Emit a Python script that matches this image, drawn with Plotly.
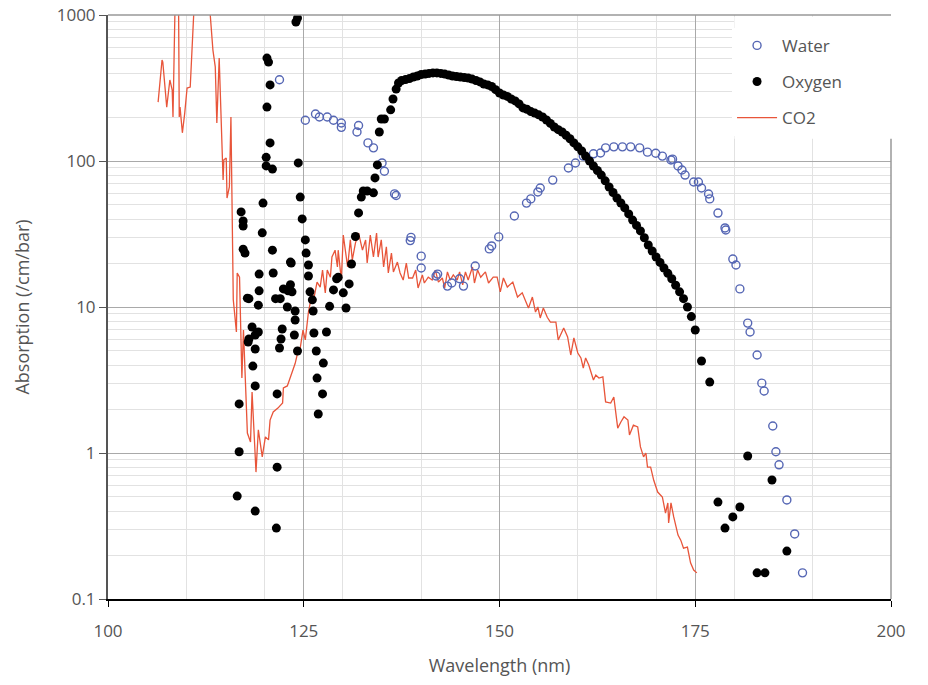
import plotly.graph_objects as go

# ---- data -------------------------------------------------------------
water_nm = [121.9, 125.2, 126.5, 127.0, 128.0, 128.8, 129.8, 129.8, 132.0, 131.8,
            133.2, 133.9, 135.0, 135.3, 136.6, 136.8, 138.6, 138.7, 140.0, 140.0,
            141.9, 142.1, 143.35, 143.9, 144.9, 145.4, 146.9, 148.7, 149.0, 149.9,
            151.9, 153.45, 154.0, 154.9, 155.2, 156.8, 158.8, 159.7, 160.7, 162.0,
            162.9, 163.55, 164.6, 165.7, 166.75, 167.9, 168.9, 169.95, 170.8, 171.9,
            172.1, 172.8, 173.3, 173.7, 174.8, 175.4, 175.8, 176.7, 176.85, 177.9,
            178.8, 178.9, 179.8, 180.2, 180.7, 181.7, 182.0, 182.9, 183.5, 183.8,
            184.9, 185.3, 185.7, 186.7, 187.7, 188.7]
water_abs = [360, 190, 210, 200, 200, 190, 182, 170, 175, 158,
             133, 123, 97, 85, 59.5, 58, 28.5, 30, 22.3, 18.5,
             16.3, 16.8, 13.9, 14.6, 15.6, 13.9, 19.1, 25.0, 26.2, 30.2,
             42, 51.5, 55, 61.4, 65.3, 74, 89.6, 96.9, 108, 112,
             113.5, 123, 125, 125, 125, 123, 115, 113, 108, 101.6,
             103, 92.5, 86.8, 80.1, 71.8, 71.8, 65.3, 59.4, 55, 44,
             34.8, 33.7, 21.3, 19.4, 13.3, 7.76, 6.74, 4.69, 3.01, 2.66,
             1.53, 1.02, 0.83, 0.477, 0.279, 0.151]

oxygen_nm = [116.5, 116.75, 116.75, 117.0, 117.26, 117.26, 117.26, 117.5, 117.8, 117.9,
             118.0, 118.0, 118.4, 118.5, 118.8, 118.8, 118.8, 118.8, 119.2, 119.2,
             119.3, 119.3, 119.7, 119.8, 120.2, 120.2, 120.3, 120.3, 120.5, 120.7,
             120.7, 121.0, 121.0, 121.1, 121.4, 121.5, 121.6, 121.6, 121.9, 122.1,
             122.25, 122.0, 122.4, 122.9, 122.9, 123.0, 123.3, 123.3, 123.4, 123.5,
             123.8, 123.9, 123.9, 124.0, 124.2, 124.2, 124.3, 124.55, 124.8, 125.2,
             125.3, 125.6, 125.6, 125.8, 126.1, 126.2, 126.3, 126.6, 126.7, 126.85,
             127.4, 127.5, 127.9, 128.3, 128.8, 129.2, 129.4, 130.05, 130.4, 130.8,
             131.1, 131.6, 132.0, 132.35, 132.6, 133.1, 133.9, 134.1, 134.4, 134.65,
             134.9, 135.3, 136.1, 136.4, 136.8, 137.1,
             137.5, 138.0, 138.5, 139.0, 139.5, 140.0, 140.5, 141.0, 141.5, 142.0,
             142.5, 143.0, 143.5, 144.0, 144.5, 145.0, 145.5, 146.0, 146.5, 147.0,
             147.5, 148.0, 148.5, 149.0, 149.5, 150.0, 150.5, 151.0, 151.5, 152.0,
             152.5, 153.0, 153.5, 154.0, 154.5, 155.0, 155.5, 156.0, 156.5, 157.0,
             157.5, 158.0, 158.5, 159.0, 159.5, 160.0, 160.5, 161.0, 161.5, 162.0,
             162.5, 163.0, 163.5, 164.0, 164.5, 165.0, 165.5, 166.0, 166.5, 167.0,
             167.5, 168.0, 168.5, 169.0, 169.5, 170.0, 170.5, 171.0, 171.5, 172.0,
             172.5, 173.0, 173.5, 174.0, 174.5, 175.0,
             175.8, 176.85, 177.9, 178.8, 179.8, 180.7, 181.7, 182.9, 183.9, 184.8,
             186.7]
oxygen_abs = [0.507, 1.02, 2.17, 44.8, 38.8, 35.9, 24.9, 23.4, 11.5, 5.76,
              11.4, 6.04, 7.30, 3.94, 6.43, 5.16, 2.88, 0.40, 10.3, 6.74,
              16.8, 12.9, 32.2, 51.5, 106, 92.5, 234, 507, 476, 332,
              133, 88, 24.5, 17.1, 11.4, 0.306, 2.54, 0.80, 5.24, 6.04,
              7.07, 11.4, 13.3, 13.1, 10.0, 12.9, 14.2, 20.3, 20.0, 12.7,
              6.43, 9.39, 8.15, 896, 953, 5.0, 97, 56.6, 40.1, 28.8,
              23.4, 19.4, 16.3, 12.7, 11.2, 9.39, 6.64, 5.0, 3.26, 1.85,
              2.54, 4.13, 6.74, 10.1, 13.1, 15.6, 16.0, 12.5, 9.84, 14.4,
              19.7, 30.4, 44.1, 56.6, 62.3, 62.3, 60.5, 76.6, 94, 158,
              194, 194, 224, 266, 311, 342,
              356, 361, 367, 376, 382, 391, 394, 398, 401, 401,
              398, 394, 388, 382, 379, 376, 373, 370, 364, 356,
              348, 337, 332, 324, 308, 292, 283, 277, 266, 258,
              246, 231, 226, 218, 213, 207, 200, 191, 181, 171,
              164, 158, 150, 142, 133, 125, 117, 108, 100, 92.4,
              86.1, 80.1, 73.1, 66.4, 60.9, 55.8, 51.6, 47.7, 43.4, 39.4,
              36.2, 33.2, 29.8, 26.6, 24.2, 22.0, 20.2, 18.5, 17.0, 15.6,
              14.1, 12.7, 11.4, 10.0, 8.6, 6.96,
              4.27, 3.06, 0.461, 0.306, 0.365, 0.427, 0.953, 0.151, 0.151, 0.653,
              0.213]

co2_nm = [106.4, 106.9, 107.0, 107.5, 107.9, 108.2, 108.3, 108.6, 109.0, 109.1,
          109.2, 109.5, 109.8, 110.1, 110.5, 111.1, 111.3, 112.9, 113.0, 113.4,
          113.7, 113.9, 114.2, 114.5, 114.7, 114.8, 115.1, 115.2, 115.5, 115.7,
          115.9, 116.0, 116.4, 116.5, 116.8, 117.1, 117.3, 117.8, 118.2, 118.4,
          118.9, 119.2, 119.7, 120.1, 120.5, 120.7, 121.1, 121.7, 122.3, 122.4,
          122.9, 123.5, 123.9, 124.3, 124.55, 124.9, 125.2, 125.6, 126.1, 126.2,
          126.7, 127.1, 127.4, 127.75, 128.0, 128.4, 128.6, 129.0, 129.3, 129.4,
          129.8, 130.05, 130.6, 130.95, 131.2, 131.6, 132.0, 132.5, 132.9, 133.1,
          133.5, 133.9, 134.3, 134.5, 134.9, 135.2, 135.55, 135.8, 136.2, 136.45,
          136.96, 137.3, 137.7, 138.1, 138.4, 138.9, 139.3, 139.6, 140.15, 140.4,
          140.9, 141.4, 141.8, 142.2, 142.7, 143.0, 143.35, 143.7, 144.1, 144.6,
          144.9, 145.3, 145.65, 146.0, 146.55, 146.8, 147.2, 147.6, 148.2, 148.6,
          149.2, 149.7, 150.1, 150.5, 151.0, 151.7, 152.3, 152.9, 153.3, 153.7,
          154.2, 154.6, 154.9, 155.2, 155.6, 156.1, 156.5, 157.2, 157.5, 158.2,
          158.7, 159.1, 159.5, 160.0, 160.4, 160.7, 161.0, 161.4, 162.0, 162.3,
          162.7, 163.2, 163.55, 164.2, 164.6, 165.1, 165.5, 165.9, 166.4, 166.6,
          167.1, 167.65, 168.0, 168.4, 168.7, 168.9, 169.3, 169.7, 170.2, 170.8,
          171.2, 171.5, 171.6, 171.9, 172.25, 172.8, 173.15, 173.5, 174.0, 174.4,
          174.8, 175.2]
co2_abs = [253, 492, 476, 234, 359, 306, 200, 1500, 1500, 200,
           234, 156, 213, 316, 321, 1500, 1500, 1500, 1100, 575,
           441, 182, 507, 133, 74, 102, 105, 55.8, 66.4, 200,
           17.9, 11.2, 6.74, 17.1, 16.0, 3.26, 6.95, 1.37, 1.19, 2.62,
           0.74, 1.44, 0.94, 1.29, 1.23, 1.68, 1.91, 2.03, 2.20, 2.79,
           2.88, 3.53, 4.1, 5.07, 5.24, 6.95, 5.95, 9.24, 12.7, 10.8,
           14.8, 13.7, 17.9, 12.5, 17.9, 16.0, 22.0, 24.5, 18.8, 24.5,
           15.3, 31.1, 18.8, 28.8, 21.0, 27.4, 32.1, 24.5, 28.8, 20.0,
           31.1, 22.0, 32.1, 22.0, 28.8, 18.8, 25.8, 17.1, 23.4, 17.4,
           20.3, 17.1, 15.3, 20.0, 15.8, 15.8, 17.9, 13.5, 16.6, 14.6,
           16.0, 15.3, 17.9, 14.8, 15.8, 13.5, 17.4, 15.3, 16.6, 15.3,
           17.4, 14.2, 17.4, 15.3, 18.8, 14.6, 17.9, 16.0, 17.4, 14.6,
           16.0, 16.0, 12.7, 15.8, 13.7, 14.8, 11.7, 12.5, 11.2, 9.85,
           11.7, 9.24, 10.0, 8.41, 9.85, 8.5, 7.89, 7.89, 5.95, 7.18,
           6.23, 4.69, 6.14, 4.84, 4.48, 3.82, 4.48, 4.01, 3.16, 3.42,
           3.26, 3.32, 2.24, 2.20, 2.42, 1.48, 1.63, 1.77, 1.68, 1.33,
           1.55, 1.51, 1.10, 0.94, 1.0, 0.80, 0.80, 0.65, 0.54, 0.50,
           0.388, 0.455, 0.332, 0.455, 0.365, 0.274, 0.253, 0.223, 0.227, 0.177,
           0.158, 0.151]

x_ticks = [100, 125, 150, 175, 200]
x_minor = [110, 120, 130, 140, 160, 170, 180, 190]
y_ticks = [0.1, 1, 10, 100, 1000]
y_tick_text = ["0.1", "1", "10", "100", "1000"]
y_minor = [m * 10 ** e for e in (-1, 0, 1, 2) for m in range(2, 10)]

# ---- styling ----------------------------------------------------------
FONT = "Open Sans"
TEXT = "#555555"
CO2_RED = "#e8553a"
WATER_BLUE = "#5566b4"

fig = go.Figure()

fig.add_trace(go.Scatter(
    x=co2_nm, y=co2_abs, name="CO2", mode="lines",
    line=dict(color=CO2_RED, width=1.3), legendrank=3))

fig.add_trace(go.Scatter(
    x=water_nm, y=water_abs, name="Water", mode="markers",
    marker=dict(symbol="circle-open", size=8, color=WATER_BLUE,
                line=dict(width=1.4, color=WATER_BLUE)), legendrank=1))

fig.add_trace(go.Scatter(
    x=oxygen_nm, y=oxygen_abs, name="Oxygen", mode="markers",
    marker=dict(symbol="circle", size=9, color="black"), legendrank=2))

fig.update_layout(
    width=928, height=685,
    margin=dict(l=108, r=37, t=15, b=86, autoexpand=False),
    paper_bgcolor="white", plot_bgcolor="white",
    font=dict(family=FONT, size=17, color=TEXT),
    showlegend=True,
    legend=dict(x=0.797, xanchor="left", y=0.978, yanchor="top",
                bgcolor="white", borderwidth=0,
                font=dict(family=FONT, size=17, color=TEXT),
                traceorder="grouped", tracegroupgap=11, itemwidth=40),
    shapes=[
        # white panel behind the legend
        dict(type="rect", xref="paper", yref="paper", x0=0.800, x1=1.003,
             y0=0.788, y1=0.997, fillcolor="white", line=dict(width=0),
             layer="above"),
        # top border
        dict(type="line", xref="paper", yref="paper", x0=0, x1=1, y0=1, y1=1,
             line=dict(color="#999999", width=1.5), layer="above"),
        # right border below the legend
        dict(type="line", xref="paper", yref="paper", x0=1, x1=1, y0=0, y1=0.788,
             line=dict(color="#999999", width=1.5), layer="above"),
    ],
)

fig.update_xaxes(
    range=[100, 200], tickmode="array", tickvals=x_ticks, automargin=False,
    showline=True, linecolor="black", linewidth=1.5,
    ticks="outside", ticklen=6, tickwidth=1.3, tickcolor="black",
    ticklabelstandoff=10,
    showgrid=True, gridcolor="#a9a9a9", gridwidth=1,
    minor=dict(tickmode="array", tickvals=x_minor, showgrid=True,
               gridcolor="#e2e2e2", gridwidth=1, ticks=""),
    zeroline=False,
    title=dict(text="Wavelength (nm)", standoff=18,
               font=dict(family=FONT, size=18, color=TEXT)),
    tickfont=dict(family=FONT, size=17, color=TEXT),
)

fig.update_yaxes(
    type="log", range=[-1, 3], tickmode="array", automargin=False,
    tickvals=y_ticks, ticktext=y_tick_text,
    showline=True, linecolor="#555555", linewidth=2,
    ticks="outside", ticklen=7, tickwidth=1.3, tickcolor="#555555",
    showgrid=True, gridcolor="#a9a9a9", gridwidth=1,
    minor=dict(tickmode="array", tickvals=y_minor, showgrid=True,
               gridcolor="#e2e2e2", gridwidth=1, ticks=""),
    zeroline=False,
    title=dict(text="Absorption (/cm/bar)", standoff=22,
               font=dict(family=FONT, size=18, color=TEXT)),
    tickfont=dict(family=FONT, size=17, color=TEXT),
)

# each trace in its own group so the legend rows are spread apart
for tr in fig.data:
    tr.legendgroup = tr.name

fig.write_html("out.html")
